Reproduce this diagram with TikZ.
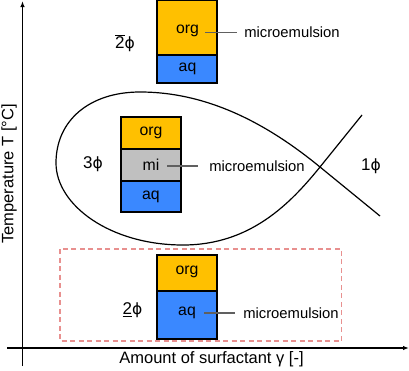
\documentclass[tikz,border=0pt]{standalone}
\usepackage{fontspec}
\setmainfont{Liberation Sans}
\newfontfamily\phifont{DejaVu Sans}
\newcommand{\myphi}{{\phifont\fontsize{15.5}{17}\selectfont ϕ}}
\usetikzlibrary{arrows.meta}
\definecolor{orgc}{HTML}{FFC000}
\definecolor{aqc}{HTML}{3A88FF}
\definecolor{mic}{HTML}{C0C0C0}
\definecolor{dashc}{HTML}{E8908F}
\definecolor{linec}{HTML}{606060}
\tikzset{
  layer/.style={draw=black, line width=1.2pt, minimum width=60pt, inner sep=0pt, outer sep=0pt},
  orglayer/.style={layer, fill=orgc},
  aqlayer/.style={layer, fill=aqc},
  milayer/.style={layer, fill=mic},
  boxtext/.style={inner sep=0pt, font=\fontsize{15.8}{17}\selectfont},
  metext/.style={inner sep=0pt, font=\fontsize{14.8}{17}\selectfont},
  phase/.style={inner sep=0pt, font=\fontsize{17}{19}\selectfont},
  axlabel/.style={inner sep=0pt, font=\fontsize{16.5}{18}\selectfont},
  melink/.style={draw=linec, line width=1.2pt},
  axis/.style={line width=1.2pt, -{Latex[length=6pt,width=4.5pt]}}
}
\begin{document}
\begin{tikzpicture}[x=1pt,y=-1pt]
\useasboundingbox (0,0) rectangle (409,370);
% axes
\coordinate (yb) at (22.5,366);
\coordinate (yt) at (22.5,1);
\coordinate (xl) at (7,348);
\coordinate (xr) at (409,348);
\draw[axis] (yb) -- (yt);
\draw[axis] (xl) -- (xr);
\node[axlabel, rotate=90] (ylab) at (9,174) {Temperature T [°C]};
\node[axlabel] (xlab) at (211.5,359.5) {Amount of surfactant γ [-]};
% dashed region
\draw[dashc, line width=1.2pt, dash pattern=on 5pt off 3.5pt] (60,249) rectangle (341.5,341);
% loop curve
\draw[line width=1.2pt] (362,115) -- (320,167)
  .. controls (290,204) and (250,245) .. (183,245)
  .. controls (110,245) and (56,205) .. (56,163)
  .. controls (56,120) and (90,92) .. (140,92)
  .. controls (210,92) and (270,126) .. (320,167) -- (380,216);
% top box
\node[orglayer, minimum height=55pt] (tOrgBox) at (187,27.5) {};
\node[aqlayer, minimum height=28pt] (tAqBox) at (187,69) {};
\node[boxtext] (tOrg) at (187.5,30.5) {org};
\node[boxtext] (tAq) at (187.5,69) {aq};
\node[metext] (tMe) at (292,32) {microemulsion};
\draw[melink] ([xshift=6pt]tOrg.east |- 0,32.3) -- ([xshift=-7pt]tMe.west |- 0,32.3);
\node[phase] (p2bar) at (125,43) {$\overline{\hbox{2}}$\myphi};
% middle box
\node[orglayer, minimum height=32pt] (mOrgBox) at (151,133) {};
\node[milayer, minimum height=32pt] (mMiBox) at (151,165) {};
\node[aqlayer, minimum height=31pt] (mAqBox) at (151,196.5) {};
\node[boxtext] (mOrg) at (151,133) {org};
\node[boxtext] (mMi) at (151,165) {mi};
\node[boxtext] (mAq) at (151,196.5) {aq};
\node[metext] (mMe) at (257,166) {microemulsion};
\draw[melink] (167,166) -- (198,166);
\node[phase] (p3) at (93,164) {3\myphi};
\node[phase] (p1) at (371,166) {1\myphi};
% bottom box
\node[orglayer, minimum height=36pt] (bOrgBox) at (187,273) {};
\node[aqlayer, minimum height=48pt] (bAqBox) at (187,315) {};
\node[boxtext] (bOrg) at (187,272) {org};
\node[boxtext] (bAq) at (187,312.5) {aq};
\node[metext] (bMe) at (291,313) {microemulsion};
\draw[melink] (204,313) -- (235,313);
\node[phase] (p2un) at (132.5,310) {\underline{2}\myphi};
\end{tikzpicture}
\end{document}
